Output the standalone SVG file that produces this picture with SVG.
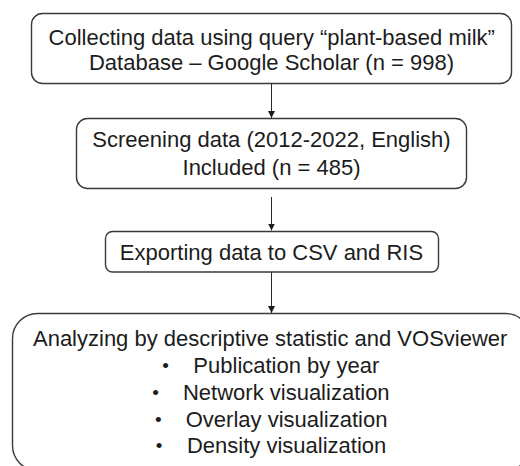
<svg xmlns="http://www.w3.org/2000/svg" width="520" height="466" viewBox="0 0 520 466">
  <defs>
    <style>
      .box { fill: #ffffff; stroke: #3a3a3a; stroke-width: 1.4; }
      .conn { stroke: #2a2a2a; stroke-width: 1; fill: none; }
      .t { font-family: "Liberation Sans", Arial, sans-serif; font-size: 22px; fill: #1c1c1c; text-anchor: middle; }
      .b { font-family: "Liberation Sans", Arial, sans-serif; font-size: 19px; fill: #1c1c1c; text-anchor: middle; }
    </style>
    <marker id="arrow" markerWidth="8" markerHeight="9" refX="7" refY="4" orient="auto" markerUnits="userSpaceOnUse">
      <path d="M0,0.5 L7,4 L0,7.5 Z" fill="#1c1c1c"/>
    </marker>
  </defs>
  <rect width="520" height="466" fill="#ffffff"/>

  <g id="connectors">
    <line class="conn" x1="271.5" y1="84" x2="271.5" y2="118" marker-end="url(#arrow)"/>
    <line class="conn" x1="271.5" y1="197" x2="271.5" y2="230.5" marker-end="url(#arrow)"/>
    <line class="conn" x1="271.5" y1="272" x2="271.5" y2="313" marker-end="url(#arrow)"/>
  </g>

  <g id="collect">
    <rect class="box" x="31.5" y="13.5" width="480" height="70" rx="11" ry="11"/>
    <text class="t" x="271.7" y="44.5">Collecting data using query “plant-based milk”</text>
    <text class="t" x="271.5" y="70">Database – Google Scholar (n = 998)</text>
  </g>

  <g id="screen">
    <rect class="box" x="76.5" y="118.5" width="390" height="70" rx="11" ry="11"/>
    <text class="t" x="271.5" y="147.3">Screening data (2012-2022, English)</text>
    <text class="t" x="271.5" y="175">Included (n = 485)</text>
  </g>

  <g id="export">
    <rect class="box" x="105.5" y="231.5" width="333" height="40.5" rx="7" ry="7"/>
    <text class="t" x="271.5" y="259.8">Exporting data to CSV and RIS</text>
  </g>

  <g id="analyze">
    <rect class="box" x="12.5" y="313.5" width="518" height="157" rx="25" ry="25"/>
    <text class="t" x="270.2" y="345.6">Analyzing by descriptive statistic and VOSviewer</text>
    <text class="b" x="165.7" y="372">•</text>
    <text class="t" x="286.3" y="373">Publication by year</text>
    <text class="b" x="155.7" y="399">•</text>
    <text class="t" x="286.3" y="400">Network visualization</text>
    <text class="b" x="158.3" y="425.5">•</text>
    <text class="t" x="286.6" y="426.5">Overlay visualization</text>
    <text class="b" x="159" y="452">•</text>
    <text class="t" x="286.6" y="453">Density visualization</text>
  </g>
</svg>
